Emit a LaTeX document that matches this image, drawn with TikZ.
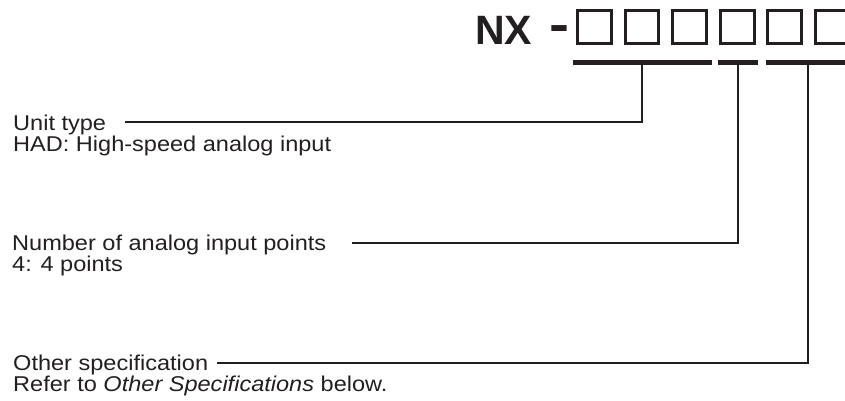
\documentclass[tikz,border=0pt]{standalone}
\usepackage{fontspec}
\setmainfont[FakeStretch=1.1]{Liberation Sans}
\newfontfamily\titlefont{Liberation Sans}
\definecolor{ink}{RGB}{35,31,32}
\tikzset{
  lbl/.style={anchor=base west, inner sep=0pt, text=ink, font=\fontsize{21.4}{21.4}\selectfont},
  digit/.style={draw=ink, line width=3pt, inner sep=0pt},
  conn/.style={draw=ink, line width=1.3pt},
}
\begin{document}
\begin{tikzpicture}[x=1pt,y=-1pt]
\useasboundingbox (0,0) rectangle (845,401);
% title
\node[anchor=base west, inner sep=0pt, text=ink, font=\titlefont\fontsize{41}{41}\selectfont\bfseries] (nx) at (475,45) {NX};
\node[anchor=base west, inner sep=0pt, text=ink, font=\titlefont\fontsize{40}{40}\selectfont\bfseries, xscale=1.5, yscale=1.25] (dash) at (549,42) {-};
% boxes
\foreach \i in {0,...,5}{
  \draw[digit] ({577.5+47.6*\i},10.5) rectangle ++(33.7,33);
}
% bars
\fill[ink] (573,60) rectangle (712,65);
\fill[ink] (718,60) rectangle (758,65);
\fill[ink] (766,60) rectangle (846,65);
\coordinate (b1) at (642,65);
\coordinate (b2) at (738,65);
\coordinate (b3) at (808,65);
% labels
\node[lbl] (unit) at (13,130) {Unit type};
\node[lbl] (unitd) at (13,151.5) {HAD: High-speed analog input};
\node[lbl] (num) at (12,250) {Number of analog input points};
\node[lbl] (numd) at (12,271.5) {4: 4 points};
\node[lbl] (oth) at (13,370) {Other specification};
\node[lbl] (othd) at (13,391) {Refer to \textit{Other Specifications} below.};
% connectors
\coordinate (s1) at (125,122);
\coordinate (s2) at (352,243);
\coordinate (s3) at (217,363);
\draw[conn] (s1) -| (b1);
\draw[conn] (s2) -| (b2);
\draw[conn] (s3) -| (b3);
\end{tikzpicture}
\end{document}
